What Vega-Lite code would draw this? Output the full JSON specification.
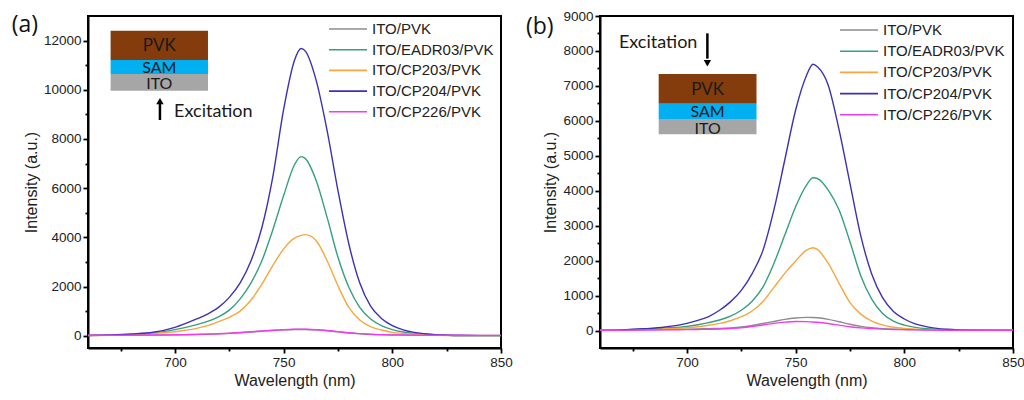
{
  "$schema": "https://vega.github.io/schema/vega-lite/v6.json",
  "background": "white",
  "padding": {"left": 10, "top": 8, "right": 0, "bottom": 0},
  "spacing": 10,
  "config": {
    "view": {"stroke": "black", "strokeWidth": 2},
    "font": "Liberation Sans",
    "axis": {
      "grid": false,
      "domainColor": "black",
      "domainWidth": 2,
      "tickColor": "black",
      "tickWidth": 1.8,
      "labelFont": "Liberation Sans",
      "labelFontSize": 13.5,
      "labelColor": "#222222",
      "labelFlush": false,
      "labelOverlap": false,
      "titleFont": "Liberation Sans",
      "titleFontSize": 16,
      "titleFontWeight": "normal",
      "titleColor": "#222222"
    },
    "legend": {
      "title": null,
      "orient": "none",
      "padding": 0,
      "symbolType": "stroke",
      "symbolSize": 1444,
      "symbolStrokeWidth": 1.6,
      "clipHeight": 19,
      "labelFont": "Liberation Sans",
      "labelFontSize": 15,
      "labelColor": "#222222",
      "labelOffset": 4
    }
  },
  "datasets": {
    "pl_a": [
      {"wavelength": 660, "ITO/PVK": 15, "ITO/EADR03/PVK": 10, "ITO/CP203/PVK": 5, "ITO/CP204/PVK": 10, "ITO/CP226/PVK": 20},
      {"wavelength": 670, "ITO/PVK": 15, "ITO/EADR03/PVK": 25, "ITO/CP203/PVK": 15, "ITO/CP204/PVK": 30, "ITO/CP226/PVK": 20},
      {"wavelength": 680, "ITO/PVK": 20, "ITO/EADR03/PVK": 50, "ITO/CP203/PVK": 35, "ITO/CP204/PVK": 70, "ITO/CP226/PVK": 25},
      {"wavelength": 690, "ITO/PVK": 25, "ITO/EADR03/PVK": 110, "ITO/CP203/PVK": 95, "ITO/CP204/PVK": 140, "ITO/CP226/PVK": 30},
      {"wavelength": 700, "ITO/PVK": 35, "ITO/EADR03/PVK": 245, "ITO/CP203/PVK": 160, "ITO/CP204/PVK": 340, "ITO/CP226/PVK": 40},
      {"wavelength": 705, "ITO/PVK": 40, "ITO/EADR03/PVK": 340, "ITO/CP203/PVK": 225, "ITO/CP204/PVK": 500, "ITO/CP226/PVK": 45},
      {"wavelength": 710, "ITO/PVK": 50, "ITO/EADR03/PVK": 450, "ITO/CP203/PVK": 300, "ITO/CP204/PVK": 680, "ITO/CP226/PVK": 55},
      {"wavelength": 715, "ITO/PVK": 60, "ITO/EADR03/PVK": 580, "ITO/CP203/PVK": 410, "ITO/CP204/PVK": 880, "ITO/CP226/PVK": 65},
      {"wavelength": 720, "ITO/PVK": 75, "ITO/EADR03/PVK": 770, "ITO/CP203/PVK": 570, "ITO/CP204/PVK": 1150, "ITO/CP226/PVK": 80},
      {"wavelength": 725, "ITO/PVK": 95, "ITO/EADR03/PVK": 1040, "ITO/CP203/PVK": 750, "ITO/CP204/PVK": 1560, "ITO/CP226/PVK": 100},
      {"wavelength": 730, "ITO/PVK": 120, "ITO/EADR03/PVK": 1500, "ITO/CP203/PVK": 1000, "ITO/CP204/PVK": 2150, "ITO/CP226/PVK": 130},
      {"wavelength": 735, "ITO/PVK": 150, "ITO/EADR03/PVK": 2150, "ITO/CP203/PVK": 1450, "ITO/CP204/PVK": 3050, "ITO/CP226/PVK": 160},
      {"wavelength": 740, "ITO/PVK": 180, "ITO/EADR03/PVK": 3050, "ITO/CP203/PVK": 2100, "ITO/CP204/PVK": 4400, "ITO/CP226/PVK": 190},
      {"wavelength": 745, "ITO/PVK": 210, "ITO/EADR03/PVK": 4300, "ITO/CP203/PVK": 2850, "ITO/CP204/PVK": 6450, "ITO/CP226/PVK": 220},
      {"wavelength": 750, "ITO/PVK": 235, "ITO/EADR03/PVK": 5700, "ITO/CP203/PVK": 3530, "ITO/CP204/PVK": 9200, "ITO/CP226/PVK": 245},
      {"wavelength": 755, "ITO/PVK": 250, "ITO/EADR03/PVK": 6950, "ITO/CP203/PVK": 3970, "ITO/CP204/PVK": 11200, "ITO/CP226/PVK": 260},
      {"wavelength": 758, "ITO/PVK": 255, "ITO/EADR03/PVK": 7280, "ITO/CP203/PVK": 4080, "ITO/CP204/PVK": 11680, "ITO/CP226/PVK": 265},
      {"wavelength": 760, "ITO/PVK": 252, "ITO/EADR03/PVK": 7200, "ITO/CP203/PVK": 4110, "ITO/CP204/PVK": 11570, "ITO/CP226/PVK": 262},
      {"wavelength": 765, "ITO/PVK": 235, "ITO/EADR03/PVK": 6300, "ITO/CP203/PVK": 3860, "ITO/CP204/PVK": 10370, "ITO/CP226/PVK": 245},
      {"wavelength": 770, "ITO/PVK": 200, "ITO/EADR03/PVK": 4810, "ITO/CP203/PVK": 3050, "ITO/CP204/PVK": 8340, "ITO/CP226/PVK": 210},
      {"wavelength": 775, "ITO/PVK": 155, "ITO/EADR03/PVK": 3190, "ITO/CP203/PVK": 2030, "ITO/CP204/PVK": 5900, "ITO/CP226/PVK": 165},
      {"wavelength": 780, "ITO/PVK": 110, "ITO/EADR03/PVK": 1970, "ITO/CP203/PVK": 1150, "ITO/CP204/PVK": 3730, "ITO/CP226/PVK": 120},
      {"wavelength": 785, "ITO/PVK": 80, "ITO/EADR03/PVK": 1150, "ITO/CP203/PVK": 640, "ITO/CP204/PVK": 2150, "ITO/CP226/PVK": 85},
      {"wavelength": 790, "ITO/PVK": 55, "ITO/EADR03/PVK": 680, "ITO/CP203/PVK": 370, "ITO/CP204/PVK": 1200, "ITO/CP226/PVK": 60},
      {"wavelength": 795, "ITO/PVK": 40, "ITO/EADR03/PVK": 410, "ITO/CP203/PVK": 230, "ITO/CP204/PVK": 700, "ITO/CP226/PVK": 45},
      {"wavelength": 800, "ITO/PVK": 30, "ITO/EADR03/PVK": 245, "ITO/CP203/PVK": 135, "ITO/CP204/PVK": 410, "ITO/CP226/PVK": 35},
      {"wavelength": 805, "ITO/PVK": 25, "ITO/EADR03/PVK": 150, "ITO/CP203/PVK": 95, "ITO/CP204/PVK": 240, "ITO/CP226/PVK": 30},
      {"wavelength": 810, "ITO/PVK": 20, "ITO/EADR03/PVK": 95, "ITO/CP203/PVK": 60, "ITO/CP204/PVK": 135, "ITO/CP226/PVK": 25},
      {"wavelength": 815, "ITO/PVK": 18, "ITO/EADR03/PVK": 60, "ITO/CP203/PVK": 35, "ITO/CP204/PVK": 80, "ITO/CP226/PVK": 22},
      {"wavelength": 820, "ITO/PVK": 15, "ITO/EADR03/PVK": 35, "ITO/CP203/PVK": 20, "ITO/CP204/PVK": 45, "ITO/CP226/PVK": 20},
      {"wavelength": 825, "ITO/PVK": 15, "ITO/EADR03/PVK": 20, "ITO/CP203/PVK": 10, "ITO/CP204/PVK": 25, "ITO/CP226/PVK": 18},
      {"wavelength": 830, "ITO/PVK": 12, "ITO/EADR03/PVK": 10, "ITO/CP203/PVK": 5, "ITO/CP204/PVK": 10, "ITO/CP226/PVK": 18},
      {"wavelength": 840, "ITO/PVK": 12, "ITO/EADR03/PVK": 5, "ITO/CP203/PVK": 5, "ITO/CP204/PVK": 5, "ITO/CP226/PVK": 15},
      {"wavelength": 850, "ITO/PVK": 12, "ITO/EADR03/PVK": 5, "ITO/CP203/PVK": 5, "ITO/CP204/PVK": 5, "ITO/CP226/PVK": 15}
    ],
    "pl_b": [
      {"wavelength": 660, "ITO/PVK": 10, "ITO/EADR03/PVK": 5, "ITO/CP203/PVK": 5, "ITO/CP204/PVK": 5, "ITO/CP226/PVK": 10},
      {"wavelength": 670, "ITO/PVK": 15, "ITO/EADR03/PVK": 20, "ITO/CP203/PVK": 15, "ITO/CP204/PVK": 20, "ITO/CP226/PVK": 10},
      {"wavelength": 680, "ITO/PVK": 20, "ITO/EADR03/PVK": 40, "ITO/CP203/PVK": 30, "ITO/CP204/PVK": 50, "ITO/CP226/PVK": 15},
      {"wavelength": 690, "ITO/PVK": 30, "ITO/EADR03/PVK": 70, "ITO/CP203/PVK": 50, "ITO/CP204/PVK": 100, "ITO/CP226/PVK": 20},
      {"wavelength": 700, "ITO/PVK": 40, "ITO/EADR03/PVK": 115, "ITO/CP203/PVK": 80, "ITO/CP204/PVK": 205, "ITO/CP226/PVK": 25},
      {"wavelength": 705, "ITO/PVK": 45, "ITO/EADR03/PVK": 165, "ITO/CP203/PVK": 110, "ITO/CP204/PVK": 290, "ITO/CP226/PVK": 30},
      {"wavelength": 710, "ITO/PVK": 55, "ITO/EADR03/PVK": 225, "ITO/CP203/PVK": 150, "ITO/CP204/PVK": 400, "ITO/CP226/PVK": 35},
      {"wavelength": 715, "ITO/PVK": 60, "ITO/EADR03/PVK": 300, "ITO/CP203/PVK": 205, "ITO/CP204/PVK": 580, "ITO/CP226/PVK": 45},
      {"wavelength": 720, "ITO/PVK": 75, "ITO/EADR03/PVK": 410, "ITO/CP203/PVK": 280, "ITO/CP204/PVK": 820, "ITO/CP226/PVK": 60},
      {"wavelength": 725, "ITO/PVK": 100, "ITO/EADR03/PVK": 580, "ITO/CP203/PVK": 395, "ITO/CP204/PVK": 1150, "ITO/CP226/PVK": 80},
      {"wavelength": 730, "ITO/PVK": 145, "ITO/EADR03/PVK": 840, "ITO/CP203/PVK": 560, "ITO/CP204/PVK": 1630, "ITO/CP226/PVK": 115},
      {"wavelength": 735, "ITO/PVK": 200, "ITO/EADR03/PVK": 1250, "ITO/CP203/PVK": 830, "ITO/CP204/PVK": 2300, "ITO/CP226/PVK": 160},
      {"wavelength": 740, "ITO/PVK": 260, "ITO/EADR03/PVK": 1920, "ITO/CP203/PVK": 1235, "ITO/CP204/PVK": 3450, "ITO/CP226/PVK": 205},
      {"wavelength": 745, "ITO/PVK": 320, "ITO/EADR03/PVK": 2730, "ITO/CP203/PVK": 1635, "ITO/CP204/PVK": 4880, "ITO/CP226/PVK": 240},
      {"wavelength": 750, "ITO/PVK": 360, "ITO/EADR03/PVK": 3540, "ITO/CP203/PVK": 1990, "ITO/CP204/PVK": 6310, "ITO/CP226/PVK": 260},
      {"wavelength": 755, "ITO/PVK": 375, "ITO/EADR03/PVK": 4160, "ITO/CP203/PVK": 2300, "ITO/CP204/PVK": 7300, "ITO/CP226/PVK": 255},
      {"wavelength": 758, "ITO/PVK": 372, "ITO/EADR03/PVK": 4370, "ITO/CP203/PVK": 2370, "ITO/CP204/PVK": 7620, "ITO/CP226/PVK": 245},
      {"wavelength": 760, "ITO/PVK": 365, "ITO/EADR03/PVK": 4350, "ITO/CP203/PVK": 2320, "ITO/CP204/PVK": 7550, "ITO/CP226/PVK": 235},
      {"wavelength": 765, "ITO/PVK": 320, "ITO/EADR03/PVK": 4020, "ITO/CP203/PVK": 1920, "ITO/CP204/PVK": 7020, "ITO/CP226/PVK": 200},
      {"wavelength": 770, "ITO/PVK": 250, "ITO/EADR03/PVK": 3450, "ITO/CP203/PVK": 1350, "ITO/CP204/PVK": 5740, "ITO/CP226/PVK": 155},
      {"wavelength": 775, "ITO/PVK": 180, "ITO/EADR03/PVK": 2540, "ITO/CP203/PVK": 800, "ITO/CP204/PVK": 4210, "ITO/CP226/PVK": 110},
      {"wavelength": 780, "ITO/PVK": 120, "ITO/EADR03/PVK": 1560, "ITO/CP203/PVK": 470, "ITO/CP204/PVK": 2700, "ITO/CP226/PVK": 75},
      {"wavelength": 785, "ITO/PVK": 80, "ITO/EADR03/PVK": 900, "ITO/CP203/PVK": 270, "ITO/CP204/PVK": 1620, "ITO/CP226/PVK": 55},
      {"wavelength": 790, "ITO/PVK": 55, "ITO/EADR03/PVK": 490, "ITO/CP203/PVK": 160, "ITO/CP204/PVK": 940, "ITO/CP226/PVK": 40},
      {"wavelength": 795, "ITO/PVK": 40, "ITO/EADR03/PVK": 270, "ITO/CP203/PVK": 95, "ITO/CP204/PVK": 545, "ITO/CP226/PVK": 30},
      {"wavelength": 800, "ITO/PVK": 30, "ITO/EADR03/PVK": 155, "ITO/CP203/PVK": 60, "ITO/CP204/PVK": 330, "ITO/CP226/PVK": 25},
      {"wavelength": 805, "ITO/PVK": 25, "ITO/EADR03/PVK": 90, "ITO/CP203/PVK": 40, "ITO/CP204/PVK": 190, "ITO/CP226/PVK": 20},
      {"wavelength": 810, "ITO/PVK": 20, "ITO/EADR03/PVK": 50, "ITO/CP203/PVK": 25, "ITO/CP204/PVK": 110, "ITO/CP226/PVK": 15},
      {"wavelength": 815, "ITO/PVK": 15, "ITO/EADR03/PVK": 30, "ITO/CP203/PVK": 15, "ITO/CP204/PVK": 60, "ITO/CP226/PVK": 12},
      {"wavelength": 820, "ITO/PVK": 15, "ITO/EADR03/PVK": 20, "ITO/CP203/PVK": 10, "ITO/CP204/PVK": 35, "ITO/CP226/PVK": 10},
      {"wavelength": 825, "ITO/PVK": 12, "ITO/EADR03/PVK": 10, "ITO/CP203/PVK": 8, "ITO/CP204/PVK": 20, "ITO/CP226/PVK": 10},
      {"wavelength": 830, "ITO/PVK": 10, "ITO/EADR03/PVK": 5, "ITO/CP203/PVK": 5, "ITO/CP204/PVK": 10, "ITO/CP226/PVK": 10},
      {"wavelength": 840, "ITO/PVK": 10, "ITO/EADR03/PVK": 5, "ITO/CP203/PVK": 5, "ITO/CP204/PVK": 5, "ITO/CP226/PVK": 10},
      {"wavelength": 850, "ITO/PVK": 10, "ITO/EADR03/PVK": 5, "ITO/CP203/PVK": 5, "ITO/CP204/PVK": 5, "ITO/CP226/PVK": 10}
    ]
  },
  "resolve": {"legend": {"color": "independent"}, "scale": {"x": "independent", "y": "independent"}},
  "hconcat": [
    {
      "width": 413,
      "height": 332,
      "layer": [
        {
          "data": {"values": [{}]},
          "mark": {"type": "rect", "color": "#843c0c"},
          "encoding": {
            "x": {"datum": 670.4, "type": "quantitative", "title": "Wavelength (nm)", "scale": {"domain": [660, 850], "nice": false, "zero": false},
              "axis": {"values": [675, 700, 725, 750, 775, 800, 825, 850], "labelExpr": "datum.value % 50 === 0 ? datum.label : ''", "labelOverlap": false, "labelFlush": false, "tickSize": {"condition": {"test": "datum.value % 50 === 0", "value": 5}, "value": 3}, "labelPadding": 2, "titlePadding": 4}},
            "x2": {"datum": 715.2},
            "y": {"datum": 11209, "type": "quantitative", "title": "Intensity (a.u.)", "scale": {"domain": [-500, 13000], "nice": false, "zero": false},
              "axis": {"values": [0, 1000, 2000, 3000, 4000, 5000, 6000, 7000, 8000, 9000, 10000, 11000, 12000], "format": "d", "labelExpr": "datum.value % 2000 === 0 ? datum.label : ''", "labelOverlap": false, "tickSize": {"condition": {"test": "datum.value % 2000 === 0", "value": 5}, "value": 3}, "labelPadding": 2, "titlePadding": 4}},
            "y2": {"datum": 12402}
          }
        },
        {
          "data": {"values": [{}]},
          "mark": {"type": "rect", "color": "#00b0f0"},
          "encoding": {
            "x": {"datum": 670.4, "type": "quantitative", "title": "Wavelength (nm)", "scale": {"domain": [660, 850], "nice": false, "zero": false},
              "axis": {"values": [675, 700, 725, 750, 775, 800, 825, 850], "labelExpr": "datum.value % 50 === 0 ? datum.label : ''", "labelOverlap": false, "labelFlush": false, "tickSize": {"condition": {"test": "datum.value % 50 === 0", "value": 5}, "value": 3}, "labelPadding": 2, "titlePadding": 4}},
            "x2": {"datum": 715.2},
            "y": {"datum": 10639, "type": "quantitative", "title": "Intensity (a.u.)", "scale": {"domain": [-500, 13000], "nice": false, "zero": false},
              "axis": {"values": [0, 1000, 2000, 3000, 4000, 5000, 6000, 7000, 8000, 9000, 10000, 11000, 12000], "format": "d", "labelExpr": "datum.value % 2000 === 0 ? datum.label : ''", "labelOverlap": false, "tickSize": {"condition": {"test": "datum.value % 2000 === 0", "value": 5}, "value": 3}, "labelPadding": 2, "titlePadding": 4}},
            "y2": {"datum": 11209}
          }
        },
        {
          "data": {"values": [{}]},
          "mark": {"type": "rect", "color": "#a6a6a6"},
          "encoding": {
            "x": {"datum": 670.4, "type": "quantitative", "title": "Wavelength (nm)", "scale": {"domain": [660, 850], "nice": false, "zero": false},
              "axis": {"values": [675, 700, 725, 750, 775, 800, 825, 850], "labelExpr": "datum.value % 50 === 0 ? datum.label : ''", "labelOverlap": false, "labelFlush": false, "tickSize": {"condition": {"test": "datum.value % 50 === 0", "value": 5}, "value": 3}, "labelPadding": 2, "titlePadding": 4}},
            "x2": {"datum": 715.2},
            "y": {"datum": 9962, "type": "quantitative", "title": "Intensity (a.u.)", "scale": {"domain": [-500, 13000], "nice": false, "zero": false},
              "axis": {"values": [0, 1000, 2000, 3000, 4000, 5000, 6000, 7000, 8000, 9000, 10000, 11000, 12000], "format": "d", "labelExpr": "datum.value % 2000 === 0 ? datum.label : ''", "labelOverlap": false, "tickSize": {"condition": {"test": "datum.value % 2000 === 0", "value": 5}, "value": 3}, "labelPadding": 2, "titlePadding": 4}},
            "y2": {"datum": 10639}
          }
        },
        {
          "data": {"values": [{}]},
          "mark": {"type": "text", "text": "PVK", "font": "Lato", "fontSize": 17, "color": "#1a1a1a", "dy": 1},
          "encoding": {
            "x": {"datum": 692.8, "type": "quantitative", "title": "Wavelength (nm)", "scale": {"domain": [660, 850], "nice": false, "zero": false},
              "axis": {"values": [675, 700, 725, 750, 775, 800, 825, 850], "labelExpr": "datum.value % 50 === 0 ? datum.label : ''", "labelOverlap": false, "labelFlush": false, "tickSize": {"condition": {"test": "datum.value % 50 === 0", "value": 5}, "value": 3}, "labelPadding": 2, "titlePadding": 4}},
            "y": {"datum": 11808, "type": "quantitative", "title": "Intensity (a.u.)", "scale": {"domain": [-500, 13000], "nice": false, "zero": false},
              "axis": {"values": [0, 1000, 2000, 3000, 4000, 5000, 6000, 7000, 8000, 9000, 10000, 11000, 12000], "format": "d", "labelExpr": "datum.value % 2000 === 0 ? datum.label : ''", "labelOverlap": false, "tickSize": {"condition": {"test": "datum.value % 2000 === 0", "value": 5}, "value": 3}, "labelPadding": 2, "titlePadding": 4}}
          }
        },
        {
          "data": {"values": [{}]},
          "mark": {"type": "text", "text": "SAM", "font": "Lato", "fontSize": 16, "color": "#1a1a1a", "dy": 1},
          "encoding": {
            "x": {"datum": 692.8, "type": "quantitative", "title": "Wavelength (nm)", "scale": {"domain": [660, 850], "nice": false, "zero": false},
              "axis": {"values": [675, 700, 725, 750, 775, 800, 825, 850], "labelExpr": "datum.value % 50 === 0 ? datum.label : ''", "labelOverlap": false, "labelFlush": false, "tickSize": {"condition": {"test": "datum.value % 50 === 0", "value": 5}, "value": 3}, "labelPadding": 2, "titlePadding": 4}},
            "y": {"datum": 10926, "type": "quantitative", "title": "Intensity (a.u.)", "scale": {"domain": [-500, 13000], "nice": false, "zero": false},
              "axis": {"values": [0, 1000, 2000, 3000, 4000, 5000, 6000, 7000, 8000, 9000, 10000, 11000, 12000], "format": "d", "labelExpr": "datum.value % 2000 === 0 ? datum.label : ''", "labelOverlap": false, "tickSize": {"condition": {"test": "datum.value % 2000 === 0", "value": 5}, "value": 3}, "labelPadding": 2, "titlePadding": 4}}
          }
        },
        {
          "data": {"values": [{}]},
          "mark": {"type": "text", "text": "ITO", "font": "Lato", "fontSize": 16, "color": "#1a1a1a", "dy": 1.5},
          "encoding": {
            "x": {"datum": 692.8, "type": "quantitative", "title": "Wavelength (nm)", "scale": {"domain": [660, 850], "nice": false, "zero": false},
              "axis": {"values": [675, 700, 725, 750, 775, 800, 825, 850], "labelExpr": "datum.value % 50 === 0 ? datum.label : ''", "labelOverlap": false, "labelFlush": false, "tickSize": {"condition": {"test": "datum.value % 50 === 0", "value": 5}, "value": 3}, "labelPadding": 2, "titlePadding": 4}},
            "y": {"datum": 10290, "type": "quantitative", "title": "Intensity (a.u.)", "scale": {"domain": [-500, 13000], "nice": false, "zero": false},
              "axis": {"values": [0, 1000, 2000, 3000, 4000, 5000, 6000, 7000, 8000, 9000, 10000, 11000, 12000], "format": "d", "labelExpr": "datum.value % 2000 === 0 ? datum.label : ''", "labelOverlap": false, "tickSize": {"condition": {"test": "datum.value % 2000 === 0", "value": 5}, "value": 3}, "labelPadding": 2, "titlePadding": 4}}
          }
        },
        {
          "data": {"values": [{}]},
          "mark": {"type": "rule", "color": "black", "strokeWidth": 2.5},
          "encoding": {
            "x": {"datum": 693.1, "type": "quantitative", "title": "Wavelength (nm)", "scale": {"domain": [660, 850], "nice": false, "zero": false},
              "axis": {"values": [675, 700, 725, 750, 775, 800, 825, 850], "labelExpr": "datum.value % 50 === 0 ? datum.label : ''", "labelOverlap": false, "labelFlush": false, "tickSize": {"condition": {"test": "datum.value % 50 === 0", "value": 5}, "value": 3}, "labelPadding": 2, "titlePadding": 4}},
            "y": {"datum": 8772, "type": "quantitative", "title": "Intensity (a.u.)", "scale": {"domain": [-500, 13000], "nice": false, "zero": false},
              "axis": {"values": [0, 1000, 2000, 3000, 4000, 5000, 6000, 7000, 8000, 9000, 10000, 11000, 12000], "format": "d", "labelExpr": "datum.value % 2000 === 0 ? datum.label : ''", "labelOverlap": false, "tickSize": {"condition": {"test": "datum.value % 2000 === 0", "value": 5}, "value": 3}, "labelPadding": 2, "titlePadding": 4}},
            "y2": {"datum": 9420}
          }
        },
        {
          "data": {"values": [{}]},
          "mark": {"type": "point", "shape": "triangle-up", "filled": true, "color": "black", "opacity": 1, "size": 55},
          "encoding": {
            "x": {"datum": 693.1, "type": "quantitative", "title": "Wavelength (nm)", "scale": {"domain": [660, 850], "nice": false, "zero": false},
              "axis": {"values": [675, 700, 725, 750, 775, 800, 825, 850], "labelExpr": "datum.value % 50 === 0 ? datum.label : ''", "labelOverlap": false, "labelFlush": false, "tickSize": {"condition": {"test": "datum.value % 50 === 0", "value": 5}, "value": 3}, "labelPadding": 2, "titlePadding": 4}},
            "y": {"datum": 9540, "type": "quantitative", "title": "Intensity (a.u.)", "scale": {"domain": [-500, 13000], "nice": false, "zero": false},
              "axis": {"values": [0, 1000, 2000, 3000, 4000, 5000, 6000, 7000, 8000, 9000, 10000, 11000, 12000], "format": "d", "labelExpr": "datum.value % 2000 === 0 ? datum.label : ''", "labelOverlap": false, "tickSize": {"condition": {"test": "datum.value % 2000 === 0", "value": 5}, "value": 3}, "labelPadding": 2, "titlePadding": 4}}
          }
        },
        {
          "data": {"values": [{}]},
          "mark": {"type": "text", "text": "Excitation", "font": "Lato", "fontSize": 18, "color": "#1a1a1a", "align": "left"},
          "encoding": {
            "x": {"datum": 699.6, "type": "quantitative", "title": "Wavelength (nm)", "scale": {"domain": [660, 850], "nice": false, "zero": false},
              "axis": {"values": [675, 700, 725, 750, 775, 800, 825, 850], "labelExpr": "datum.value % 50 === 0 ? datum.label : ''", "labelOverlap": false, "labelFlush": false, "tickSize": {"condition": {"test": "datum.value % 50 === 0", "value": 5}, "value": 3}, "labelPadding": 2, "titlePadding": 4}},
            "y": {"datum": 9108, "type": "quantitative", "title": "Intensity (a.u.)", "scale": {"domain": [-500, 13000], "nice": false, "zero": false},
              "axis": {"values": [0, 1000, 2000, 3000, 4000, 5000, 6000, 7000, 8000, 9000, 10000, 11000, 12000], "format": "d", "labelExpr": "datum.value % 2000 === 0 ? datum.label : ''", "labelOverlap": false, "tickSize": {"condition": {"test": "datum.value % 2000 === 0", "value": 5}, "value": 3}, "labelPadding": 2, "titlePadding": 4}}
          }
        },
        {
          "data": {"values": [{}]},
          "mark": {"type": "text", "text": "(a)", "font": "Open Sans", "fontSize": 23, "color": "#111111"},
          "encoding": {
            "x": {"datum": 631, "type": "quantitative", "title": "Wavelength (nm)", "scale": {"domain": [660, 850], "nice": false, "zero": false},
              "axis": {"values": [675, 700, 725, 750, 775, 800, 825, 850], "labelExpr": "datum.value % 50 === 0 ? datum.label : ''", "labelOverlap": false, "labelFlush": false, "tickSize": {"condition": {"test": "datum.value % 50 === 0", "value": 5}, "value": 3}, "labelPadding": 2, "titlePadding": 4}},
            "y": {"datum": 12634, "type": "quantitative", "title": "Intensity (a.u.)", "scale": {"domain": [-500, 13000], "nice": false, "zero": false},
              "axis": {"values": [0, 1000, 2000, 3000, 4000, 5000, 6000, 7000, 8000, 9000, 10000, 11000, 12000], "format": "d", "labelExpr": "datum.value % 2000 === 0 ? datum.label : ''", "labelOverlap": false, "tickSize": {"condition": {"test": "datum.value % 2000 === 0", "value": 5}, "value": 3}, "labelPadding": 2, "titlePadding": 4}}
          }
        },
        {
          "data": {"name": "pl_a"},
          "transform": [{"fold": ["ITO/PVK", "ITO/EADR03/PVK", "ITO/CP203/PVK", "ITO/CP204/PVK", "ITO/CP226/PVK"], "as": ["sample", "intensity"]}],
          "mark": {"type": "line", "strokeWidth": 1.4, "interpolate": "monotone", "clip": true},
          "encoding": {
            "x": {"field": "wavelength", "type": "quantitative", "title": "Wavelength (nm)", "scale": {"domain": [660, 850], "nice": false, "zero": false},
              "axis": {"values": [675, 700, 725, 750, 775, 800, 825, 850], "labelExpr": "datum.value % 50 === 0 ? datum.label : ''", "labelOverlap": false, "labelFlush": false, "tickSize": {"condition": {"test": "datum.value % 50 === 0", "value": 5}, "value": 3}, "labelPadding": 2, "titlePadding": 4}},
            "y": {"field": "intensity", "type": "quantitative", "title": "Intensity (a.u.)", "scale": {"domain": [-500, 13000], "nice": false, "zero": false},
              "axis": {"values": [0, 1000, 2000, 3000, 4000, 5000, 6000, 7000, 8000, 9000, 10000, 11000, 12000], "format": "d", "labelExpr": "datum.value % 2000 === 0 ? datum.label : ''", "labelOverlap": false, "tickSize": {"condition": {"test": "datum.value % 2000 === 0", "value": 5}, "value": 3}, "labelPadding": 2, "titlePadding": 4}},
            "color": {
              "field": "sample", "type": "nominal",
              "sort": ["ITO/PVK", "ITO/EADR03/PVK", "ITO/CP203/PVK", "ITO/CP204/PVK", "ITO/CP226/PVK"],
              "scale": {
                "domain": ["ITO/PVK", "ITO/EADR03/PVK", "ITO/CP203/PVK", "ITO/CP204/PVK", "ITO/CP226/PVK"],
                "range": ["#8c8c8c", "#35a07f", "#f7a640", "#3d31b3", "#f03cf0"]
              },
              "legend": {"legendX": 240, "legendY": 3.5, "rowPadding": 1.7}
            }
          }
        }
      ]
    },
    {
      "width": 413,
      "height": 332,
      "layer": [
        {
          "data": {"values": [{}]},
          "mark": {"type": "rect", "color": "#843c0c"},
          "encoding": {
            "x": {"datum": 687.0, "type": "quantitative", "title": "Wavelength (nm)", "scale": {"domain": [660, 850], "nice": false, "zero": false},
              "axis": {"values": [675, 700, 725, 750, 775, 800, 825, 850], "labelExpr": "datum.value % 50 === 0 ? datum.label : ''", "labelOverlap": false, "labelFlush": false, "tickSize": {"condition": {"test": "datum.value % 50 === 0", "value": 5}, "value": 3}, "labelPadding": 2, "titlePadding": 4}},
            "x2": {"datum": 732.0},
            "y": {"datum": 6490, "type": "quantitative", "title": "Intensity (a.u.)", "scale": {"domain": [-500, 9000], "nice": false, "zero": false},
              "axis": {"values": [0, 500, 1000, 1500, 2000, 2500, 3000, 3500, 4000, 4500, 5000, 5500, 6000, 6500, 7000, 7500, 8000, 8500, 9000], "format": "d", "labelExpr": "datum.value % 1000 === 0 ? datum.label : ''", "labelOverlap": false, "tickSize": {"condition": {"test": "datum.value % 1000 === 0", "value": 5}, "value": 3}, "labelPadding": 2, "titlePadding": 4}},
            "y2": {"datum": 7340}
          }
        },
        {
          "data": {"values": [{}]},
          "mark": {"type": "rect", "color": "#00b0f0"},
          "encoding": {
            "x": {"datum": 687.0, "type": "quantitative", "title": "Wavelength (nm)", "scale": {"domain": [660, 850], "nice": false, "zero": false},
              "axis": {"values": [675, 700, 725, 750, 775, 800, 825, 850], "labelExpr": "datum.value % 50 === 0 ? datum.label : ''", "labelOverlap": false, "labelFlush": false, "tickSize": {"condition": {"test": "datum.value % 50 === 0", "value": 5}, "value": 3}, "labelPadding": 2, "titlePadding": 4}},
            "x2": {"datum": 732.0},
            "y": {"datum": 6052, "type": "quantitative", "title": "Intensity (a.u.)", "scale": {"domain": [-500, 9000], "nice": false, "zero": false},
              "axis": {"values": [0, 500, 1000, 1500, 2000, 2500, 3000, 3500, 4000, 4500, 5000, 5500, 6000, 6500, 7000, 7500, 8000, 8500, 9000], "format": "d", "labelExpr": "datum.value % 1000 === 0 ? datum.label : ''", "labelOverlap": false, "tickSize": {"condition": {"test": "datum.value % 1000 === 0", "value": 5}, "value": 3}, "labelPadding": 2, "titlePadding": 4}},
            "y2": {"datum": 6490}
          }
        },
        {
          "data": {"values": [{}]},
          "mark": {"type": "rect", "color": "#a6a6a6"},
          "encoding": {
            "x": {"datum": 687.0, "type": "quantitative", "title": "Wavelength (nm)", "scale": {"domain": [660, 850], "nice": false, "zero": false},
              "axis": {"values": [675, 700, 725, 750, 775, 800, 825, 850], "labelExpr": "datum.value % 50 === 0 ? datum.label : ''", "labelOverlap": false, "labelFlush": false, "tickSize": {"condition": {"test": "datum.value % 50 === 0", "value": 5}, "value": 3}, "labelPadding": 2, "titlePadding": 4}},
            "x2": {"datum": 732.0},
            "y": {"datum": 5614, "type": "quantitative", "title": "Intensity (a.u.)", "scale": {"domain": [-500, 9000], "nice": false, "zero": false},
              "axis": {"values": [0, 500, 1000, 1500, 2000, 2500, 3000, 3500, 4000, 4500, 5000, 5500, 6000, 6500, 7000, 7500, 8000, 8500, 9000], "format": "d", "labelExpr": "datum.value % 1000 === 0 ? datum.label : ''", "labelOverlap": false, "tickSize": {"condition": {"test": "datum.value % 1000 === 0", "value": 5}, "value": 3}, "labelPadding": 2, "titlePadding": 4}},
            "y2": {"datum": 6052}
          }
        },
        {
          "data": {"values": [{}]},
          "mark": {"type": "text", "text": "PVK", "font": "Lato", "fontSize": 17, "color": "#1a1a1a", "dy": 1},
          "encoding": {
            "x": {"datum": 709.5, "type": "quantitative", "title": "Wavelength (nm)", "scale": {"domain": [660, 850], "nice": false, "zero": false},
              "axis": {"values": [675, 700, 725, 750, 775, 800, 825, 850], "labelExpr": "datum.value % 50 === 0 ? datum.label : ''", "labelOverlap": false, "labelFlush": false, "tickSize": {"condition": {"test": "datum.value % 50 === 0", "value": 5}, "value": 3}, "labelPadding": 2, "titlePadding": 4}},
            "y": {"datum": 6910, "type": "quantitative", "title": "Intensity (a.u.)", "scale": {"domain": [-500, 9000], "nice": false, "zero": false},
              "axis": {"values": [0, 500, 1000, 1500, 2000, 2500, 3000, 3500, 4000, 4500, 5000, 5500, 6000, 6500, 7000, 7500, 8000, 8500, 9000], "format": "d", "labelExpr": "datum.value % 1000 === 0 ? datum.label : ''", "labelOverlap": false, "tickSize": {"condition": {"test": "datum.value % 1000 === 0", "value": 5}, "value": 3}, "labelPadding": 2, "titlePadding": 4}}
          }
        },
        {
          "data": {"values": [{}]},
          "mark": {"type": "text", "text": "SAM", "font": "Lato", "fontSize": 16, "color": "#1a1a1a", "dy": 1},
          "encoding": {
            "x": {"datum": 709.5, "type": "quantitative", "title": "Wavelength (nm)", "scale": {"domain": [660, 850], "nice": false, "zero": false},
              "axis": {"values": [675, 700, 725, 750, 775, 800, 825, 850], "labelExpr": "datum.value % 50 === 0 ? datum.label : ''", "labelOverlap": false, "labelFlush": false, "tickSize": {"condition": {"test": "datum.value % 50 === 0", "value": 5}, "value": 3}, "labelPadding": 2, "titlePadding": 4}},
            "y": {"datum": 6272, "type": "quantitative", "title": "Intensity (a.u.)", "scale": {"domain": [-500, 9000], "nice": false, "zero": false},
              "axis": {"values": [0, 500, 1000, 1500, 2000, 2500, 3000, 3500, 4000, 4500, 5000, 5500, 6000, 6500, 7000, 7500, 8000, 8500, 9000], "format": "d", "labelExpr": "datum.value % 1000 === 0 ? datum.label : ''", "labelOverlap": false, "tickSize": {"condition": {"test": "datum.value % 1000 === 0", "value": 5}, "value": 3}, "labelPadding": 2, "titlePadding": 4}}
          }
        },
        {
          "data": {"values": [{}]},
          "mark": {"type": "text", "text": "ITO", "font": "Lato", "fontSize": 16, "color": "#1a1a1a", "dy": 1.5},
          "encoding": {
            "x": {"datum": 709.5, "type": "quantitative", "title": "Wavelength (nm)", "scale": {"domain": [660, 850], "nice": false, "zero": false},
              "axis": {"values": [675, 700, 725, 750, 775, 800, 825, 850], "labelExpr": "datum.value % 50 === 0 ? datum.label : ''", "labelOverlap": false, "labelFlush": false, "tickSize": {"condition": {"test": "datum.value % 50 === 0", "value": 5}, "value": 3}, "labelPadding": 2, "titlePadding": 4}},
            "y": {"datum": 5820, "type": "quantitative", "title": "Intensity (a.u.)", "scale": {"domain": [-500, 9000], "nice": false, "zero": false},
              "axis": {"values": [0, 500, 1000, 1500, 2000, 2500, 3000, 3500, 4000, 4500, 5000, 5500, 6000, 6500, 7000, 7500, 8000, 8500, 9000], "format": "d", "labelExpr": "datum.value % 1000 === 0 ? datum.label : ''", "labelOverlap": false, "tickSize": {"condition": {"test": "datum.value % 1000 === 0", "value": 5}, "value": 3}, "labelPadding": 2, "titlePadding": 4}}
          }
        },
        {
          "data": {"values": [{}]},
          "mark": {"type": "rule", "color": "black", "strokeWidth": 2.5},
          "encoding": {
            "x": {"datum": 709.4, "type": "quantitative", "title": "Wavelength (nm)", "scale": {"domain": [660, 850], "nice": false, "zero": false},
              "axis": {"values": [675, 700, 725, 750, 775, 800, 825, 850], "labelExpr": "datum.value % 50 === 0 ? datum.label : ''", "labelOverlap": false, "labelFlush": false, "tickSize": {"condition": {"test": "datum.value % 50 === 0", "value": 5}, "value": 3}, "labelPadding": 2, "titlePadding": 4}},
            "y": {"datum": 8504, "type": "quantitative", "title": "Intensity (a.u.)", "scale": {"domain": [-500, 9000], "nice": false, "zero": false},
              "axis": {"values": [0, 500, 1000, 1500, 2000, 2500, 3000, 3500, 4000, 4500, 5000, 5500, 6000, 6500, 7000, 7500, 8000, 8500, 9000], "format": "d", "labelExpr": "datum.value % 1000 === 0 ? datum.label : ''", "labelOverlap": false, "tickSize": {"condition": {"test": "datum.value % 1000 === 0", "value": 5}, "value": 3}, "labelPadding": 2, "titlePadding": 4}},
            "y2": {"datum": 7780}
          }
        },
        {
          "data": {"values": [{}]},
          "mark": {"type": "point", "shape": "triangle-down", "filled": true, "color": "black", "opacity": 1, "size": 55},
          "encoding": {
            "x": {"datum": 709.4, "type": "quantitative", "title": "Wavelength (nm)", "scale": {"domain": [660, 850], "nice": false, "zero": false},
              "axis": {"values": [675, 700, 725, 750, 775, 800, 825, 850], "labelExpr": "datum.value % 50 === 0 ? datum.label : ''", "labelOverlap": false, "labelFlush": false, "tickSize": {"condition": {"test": "datum.value % 50 === 0", "value": 5}, "value": 3}, "labelPadding": 2, "titlePadding": 4}},
            "y": {"datum": 7650, "type": "quantitative", "title": "Intensity (a.u.)", "scale": {"domain": [-500, 9000], "nice": false, "zero": false},
              "axis": {"values": [0, 500, 1000, 1500, 2000, 2500, 3000, 3500, 4000, 4500, 5000, 5500, 6000, 6500, 7000, 7500, 8000, 8500, 9000], "format": "d", "labelExpr": "datum.value % 1000 === 0 ? datum.label : ''", "labelOverlap": false, "tickSize": {"condition": {"test": "datum.value % 1000 === 0", "value": 5}, "value": 3}, "labelPadding": 2, "titlePadding": 4}}
          }
        },
        {
          "data": {"values": [{}]},
          "mark": {"type": "text", "text": "Excitation", "font": "Lato", "fontSize": 18, "color": "#1a1a1a", "align": "left"},
          "encoding": {
            "x": {"datum": 668.7, "type": "quantitative", "title": "Wavelength (nm)", "scale": {"domain": [660, 850], "nice": false, "zero": false},
              "axis": {"values": [675, 700, 725, 750, 775, 800, 825, 850], "labelExpr": "datum.value % 50 === 0 ? datum.label : ''", "labelOverlap": false, "labelFlush": false, "tickSize": {"condition": {"test": "datum.value % 50 === 0", "value": 5}, "value": 3}, "labelPadding": 2, "titlePadding": 4}},
            "y": {"datum": 8235, "type": "quantitative", "title": "Intensity (a.u.)", "scale": {"domain": [-500, 9000], "nice": false, "zero": false},
              "axis": {"values": [0, 500, 1000, 1500, 2000, 2500, 3000, 3500, 4000, 4500, 5000, 5500, 6000, 6500, 7000, 7500, 8000, 8500, 9000], "format": "d", "labelExpr": "datum.value % 1000 === 0 ? datum.label : ''", "labelOverlap": false, "tickSize": {"condition": {"test": "datum.value % 1000 === 0", "value": 5}, "value": 3}, "labelPadding": 2, "titlePadding": 4}}
          }
        },
        {
          "data": {"values": [{}]},
          "mark": {"type": "text", "text": "(b)", "font": "Open Sans", "fontSize": 23, "color": "#111111"},
          "encoding": {
            "x": {"datum": 632.3, "type": "quantitative", "title": "Wavelength (nm)", "scale": {"domain": [660, 850], "nice": false, "zero": false},
              "axis": {"values": [675, 700, 725, 750, 775, 800, 825, 850], "labelExpr": "datum.value % 50 === 0 ? datum.label : ''", "labelOverlap": false, "labelFlush": false, "tickSize": {"condition": {"test": "datum.value % 50 === 0", "value": 5}, "value": 3}, "labelPadding": 2, "titlePadding": 4}},
            "y": {"datum": 8693, "type": "quantitative", "title": "Intensity (a.u.)", "scale": {"domain": [-500, 9000], "nice": false, "zero": false},
              "axis": {"values": [0, 500, 1000, 1500, 2000, 2500, 3000, 3500, 4000, 4500, 5000, 5500, 6000, 6500, 7000, 7500, 8000, 8500, 9000], "format": "d", "labelExpr": "datum.value % 1000 === 0 ? datum.label : ''", "labelOverlap": false, "tickSize": {"condition": {"test": "datum.value % 1000 === 0", "value": 5}, "value": 3}, "labelPadding": 2, "titlePadding": 4}}
          }
        },
        {
          "data": {"name": "pl_b"},
          "transform": [{"fold": ["ITO/PVK", "ITO/EADR03/PVK", "ITO/CP203/PVK", "ITO/CP204/PVK", "ITO/CP226/PVK"], "as": ["sample", "intensity"]}],
          "mark": {"type": "line", "strokeWidth": 1.4, "interpolate": "monotone", "clip": true},
          "encoding": {
            "x": {"field": "wavelength", "type": "quantitative", "title": "Wavelength (nm)", "scale": {"domain": [660, 850], "nice": false, "zero": false},
              "axis": {"values": [675, 700, 725, 750, 775, 800, 825, 850], "labelExpr": "datum.value % 50 === 0 ? datum.label : ''", "labelOverlap": false, "labelFlush": false, "tickSize": {"condition": {"test": "datum.value % 50 === 0", "value": 5}, "value": 3}, "labelPadding": 2, "titlePadding": 4}},
            "y": {"field": "intensity", "type": "quantitative", "title": "Intensity (a.u.)", "scale": {"domain": [-500, 9000], "nice": false, "zero": false},
              "axis": {"values": [0, 500, 1000, 1500, 2000, 2500, 3000, 3500, 4000, 4500, 5000, 5500, 6000, 6500, 7000, 7500, 8000, 8500, 9000], "format": "d", "labelExpr": "datum.value % 1000 === 0 ? datum.label : ''", "labelOverlap": false, "tickSize": {"condition": {"test": "datum.value % 1000 === 0", "value": 5}, "value": 3}, "labelPadding": 2, "titlePadding": 4}},
            "color": {
              "field": "sample", "type": "nominal",
              "sort": ["ITO/PVK", "ITO/EADR03/PVK", "ITO/CP203/PVK", "ITO/CP204/PVK", "ITO/CP226/PVK"],
              "scale": {
                "domain": ["ITO/PVK", "ITO/EADR03/PVK", "ITO/CP203/PVK", "ITO/CP204/PVK", "ITO/CP226/PVK"],
                "range": ["#8c8c8c", "#35a07f", "#f7a640", "#3d31b3", "#f03cf0"]
              },
              "legend": {"legendX": 239, "legendY": 4.5, "rowPadding": 2.2}
            }
          }
        }
      ]
    }
  ]
}
